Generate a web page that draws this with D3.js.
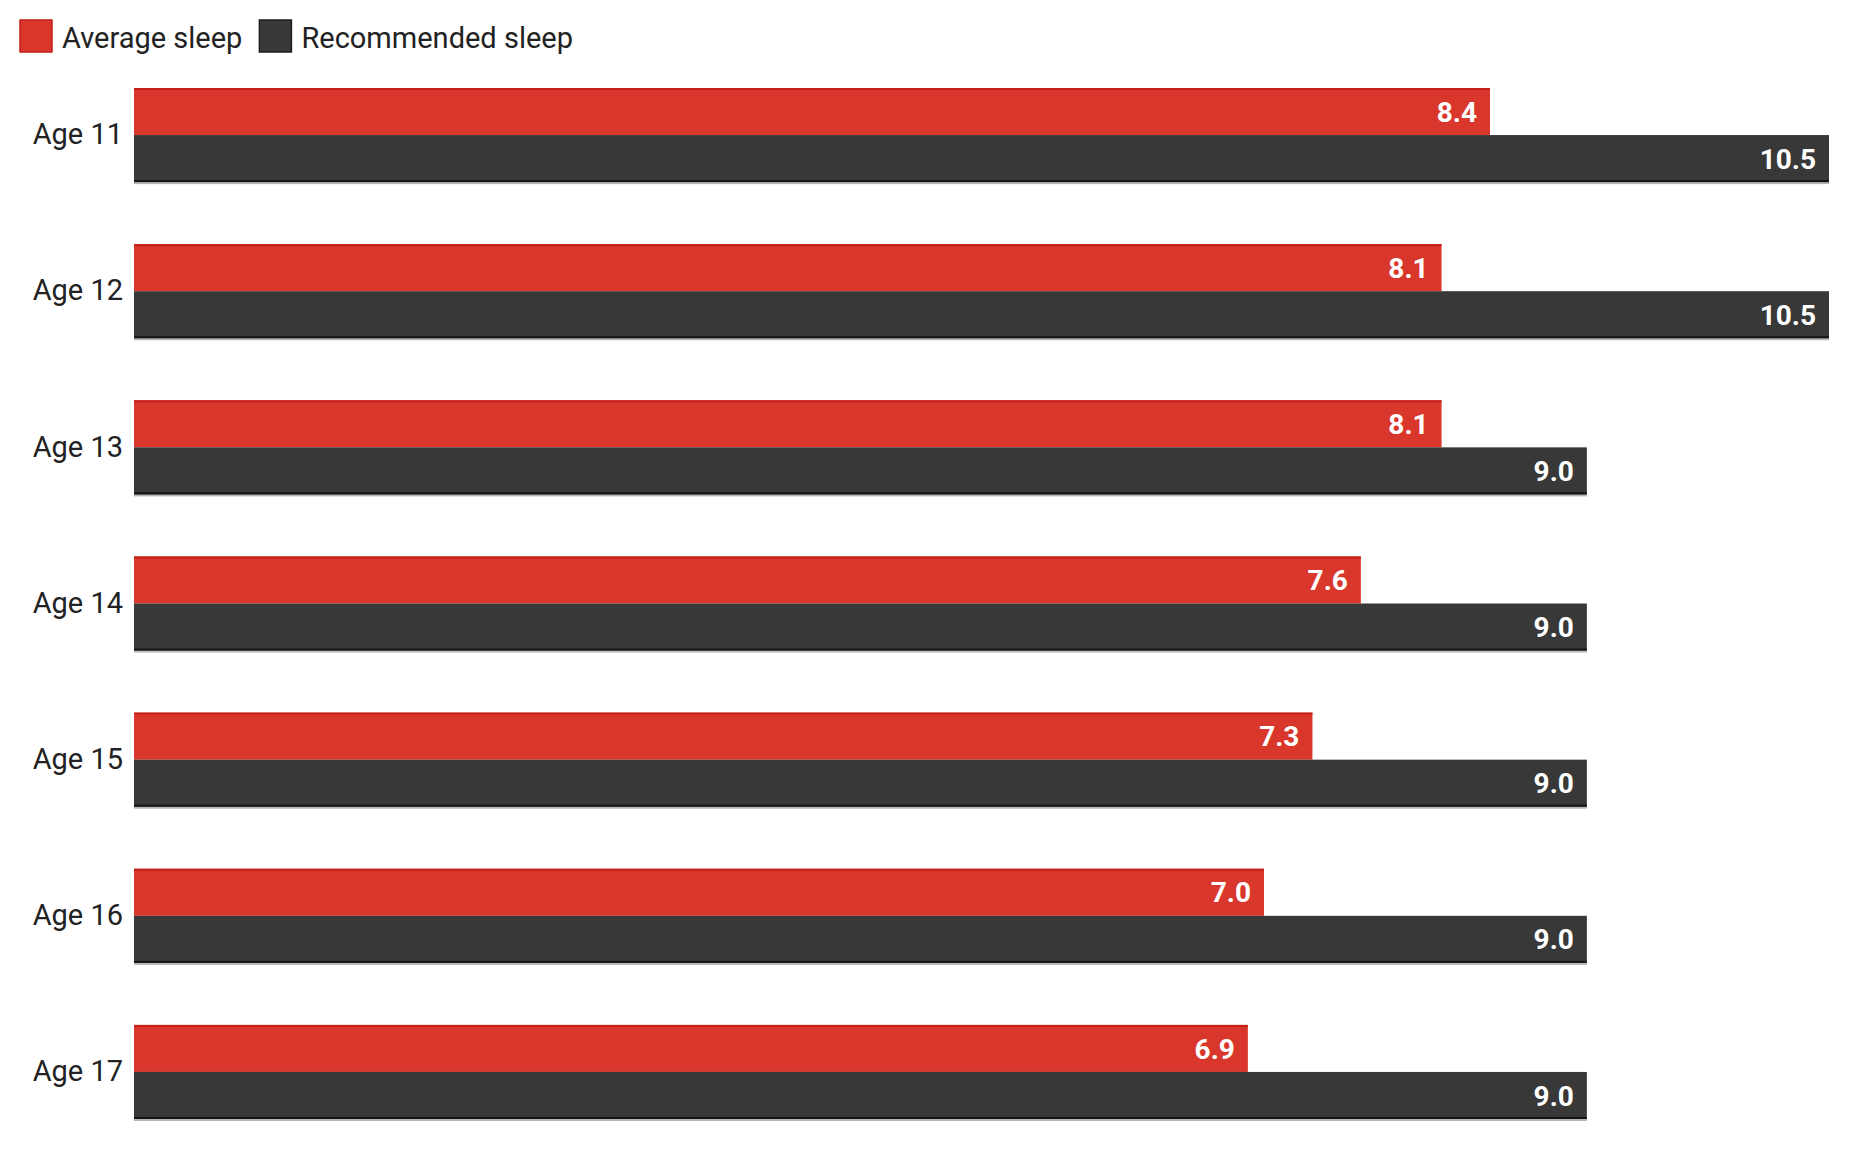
<!DOCTYPE html>
<html>
<head>
<meta charset="utf-8">
<script src="https://cdn.jsdelivr.net/npm/d3@7"></script>
<style>
  body { margin: 0; background: #fff; }
  text { font-family: Roboto, "Noto Sans", sans-serif; }
</style>
</head>
<body>
<svg id="chart" width="1853" height="1154"></svg>
<script>
const ages = ['Age 11', 'Age 12', 'Age 13', 'Age 14', 'Age 15', 'Age 16', 'Age 17'];
const averageSleep = [8.4, 8.1, 8.1, 7.6, 7.3, 7.0, 6.9];
const recommendedSleep = [10.5, 10.5, 9.0, 9.0, 9.0, 9.0, 9.0];
const seriesNames = ['Average sleep', 'Recommended sleep'];
const seriesColors = ['#d9362c', '#383838'];

const svg = d3.select('#chart');

//scales
const x = d3.scaleLinear().domain([0, 10.5]).range([134, 1829]);
const y = d3.scaleBand().domain(ages).range([88, 1119]).paddingInner(62 / 156).paddingOuter(0);
const sub = d3.scaleBand().domain(seriesNames).range([0, y.bandwidth()]);

const rows = ages.map((age, i) => ({ age, values: [averageSleep[i], recommendedSleep[i]] }));

//legend
const legend = svg.append('g');
let lx = 20;
seriesNames.forEach((name, i) => {
  legend.append('rect')
    .attr('x', lx).attr('y', 20)
    .attr('width', 32).attr('height', 32)
    .attr('fill', seriesColors[i])
    .attr('stroke', i === 0 ? '#c4201a' : '#1c1c1c')
    .attr('stroke-width', 1.5);
  const t = legend.append('text')
    .attr('x', lx + 42).attr('y', 38)
    .attr('dy', '0.35em')
    .attr('font-size', 29)
    .attr('fill', '#222')
    .text(name);
  lx += 42 + t.node().getComputedTextLength() + 17;
});

//groups
const groups = svg.selectAll('g.row')
  .data(rows)
  .enter()
  .append('g')
  .attr('class', 'row')
  .attr('transform', d => `translate(0,${y(d.age)})`);

// bar shadow
groups.append('rect')
  .attr('x', x(0))
  .attr('y', y.bandwidth())
  .attr('width', d => x(d.values[1]) - x(0))
  .attr('height', 2)
  .attr('fill', '#b5b5b5');

groups.selectAll('rect.bar')
  .data(d => d.values.map((v, i) => ({ v, i })))
  .enter()
  .append('rect')
  .attr('class', 'bar')
  .attr('x', x(0))
  .attr('y', d => sub(seriesNames[d.i]))
  .attr('width', d => x(d.v) - x(0))
  .attr('height', sub.bandwidth())
  .attr('fill', d => seriesColors[d.i]);

// darker edges
groups.append('rect')
  .attr('x', x(0))
  .attr('y', 0)
  .attr('width', d => x(d.values[0]) - x(0))
  .attr('height', 2)
  .attr('fill', '#c4201a');

groups.append('rect')
  .attr('x', x(0))
  .attr('y', y.bandwidth() - 2)
  .attr('width', d => x(d.values[1]) - x(0))
  .attr('height', 2)
  .attr('fill', '#141414');

//value labels
groups.selectAll('text.value')
  .data(d => d.values.map((v, i) => ({ v, i })))
  .enter()
  .append('text')
  .attr('class', 'value')
  .attr('x', d => x(d.v) - 13)
  .attr('y', d => sub(seriesNames[d.i]) + sub.bandwidth() / 2)
  .attr('dy', '0.36em')
  .attr('text-anchor', 'end')
  .attr('font-size', 28)
  .attr('font-weight', 700)
  .attr('fill', '#fff')
  .text(d => d3.format('.1f')(d.v));

//age labels
const yAxis = d3.axisLeft(y).tickSize(0).tickPadding(11);
const yAxisGroup = svg.append('g')
  .attr('transform', `translate(${x(0)},0)`)
  .call(yAxis);
yAxisGroup.select('.domain').remove();
yAxisGroup.selectAll('text')
  .attr('font-size', 29)
  .attr('font-family', 'Roboto, "Noto Sans", sans-serif')
  .attr('fill', '#222');
</script>
</body>
</html>
